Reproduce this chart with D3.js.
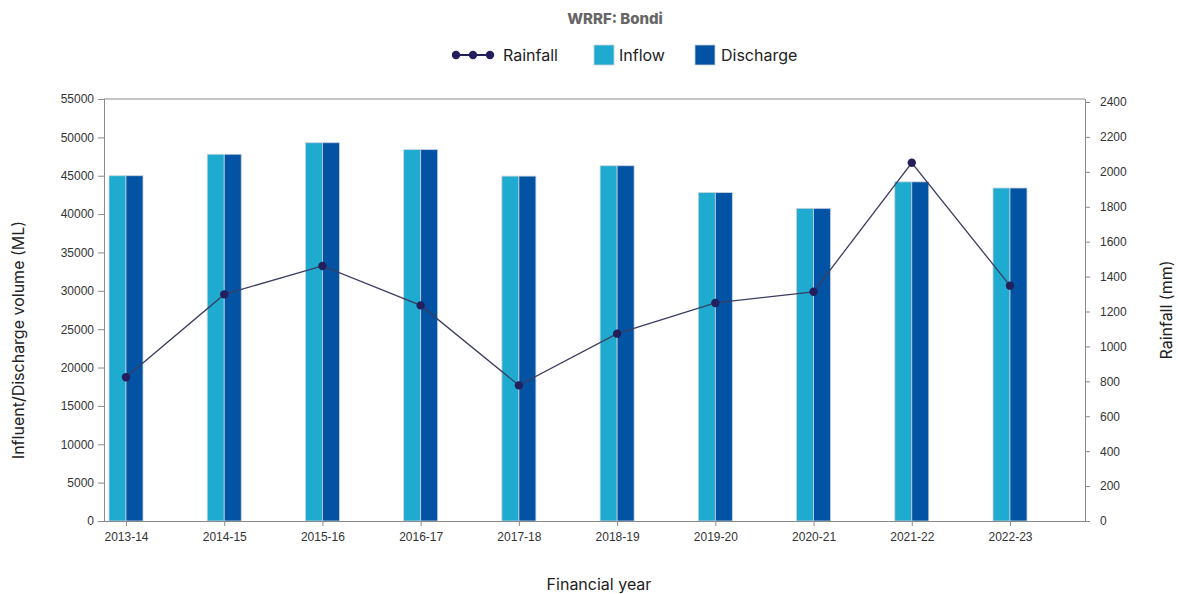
<!DOCTYPE html>
<html><head><meta charset="utf-8">
<script src="https://cdn.jsdelivr.net/npm/d3@7"></script>
<style>
body{margin:0;background:#fff;}
svg{display:block;font-family:Inter,"Open Sans",sans-serif;}
</style></head><body>
<svg id="c" width="1178" height="594"></svg>
<script>
const categories = ["2013-14","2014-15","2015-16","2016-17","2017-18","2018-19","2019-20","2020-21","2021-22","2022-23"];
const inflow    = [45000,47800,49300,48400,44950,46300,42800,40750,44200,43400];
const discharge = [45000,47800,49300,48400,44950,46300,42800,40750,44200,43400];
const rainfall  = [823,1298,1461,1235,777,1073,1249,1313,2052,1348];
const leftTicks = d3.range(0,55001,5000);
const rightTicks = d3.range(0,2401,200);

const svg = d3.select("#c");
const L=104, R=1085, T=99, B=521;
const axisCol="#8a8a8a", textCol="#333";

const x = d3.scalePoint().domain(categories).range([L+22, R-75]);
const yL = d3.scaleLinear().domain([0,55000]).range([B,T]);
const yR = d3.scaleLinear().domain([0,2400]).range([B,102]);

// top border
svg.append("line").attr("x1",L).attr("x2",R).attr("y1",T).attr("y2",T).attr("stroke",axisCol).attr("stroke-width",1);

// bars
const bw=17;
const g=svg.append("g");
g.selectAll(".inf").data(categories).join("rect")
  .attr("x",d=>x(d)-bw).attr("width",bw)
  .attr("y",(d,i)=>yL(inflow[i])).attr("height",(d,i)=>B-yL(inflow[i]))
  .attr("fill","#1fabcf").attr("stroke","#c9d3dc").attr("stroke-width",0.8);
g.selectAll(".dis").data(categories).join("rect")
  .attr("x",d=>x(d)).attr("width",bw)
  .attr("y",(d,i)=>yL(discharge[i])).attr("height",(d,i)=>B-yL(discharge[i]))
  .attr("fill","#0253a3").attr("stroke","#c9d3dc").attr("stroke-width",0.8);

// axes
function styleAxis(sel){
  sel.selectAll("path").attr("stroke",axisCol);
  sel.selectAll("line").attr("stroke",axisCol);
  sel.selectAll("text").attr("fill",textCol).style("font-size","12px");
}
const ax = svg.append("g").attr("transform",`translate(0,${B})`)
  .call(d3.axisBottom(x).tickSize(5).tickPadding(6));
ax.select("path").attr("d",`M${L},0.5H${R}`);
styleAxis(ax);
const al = svg.append("g").attr("transform",`translate(${L},0)`)
  .call(d3.axisLeft(yL).tickValues(leftTicks).tickSize(6).tickPadding(4).tickFormat(d3.format("d")));
al.select("path").attr("d",`M0.5,${B}V${T}`);
styleAxis(al);
const ar = svg.append("g").attr("transform",`translate(${R},0)`)
  .call(d3.axisRight(yR).tickValues(rightTicks).tickSize(5).tickPadding(10).tickFormat(d3.format("d")));
ar.select("path").attr("d",`M0.5,${B}V${T}`);
styleAxis(ar);

// rainfall line
const line = d3.line().x((d,i)=>x(categories[i])).y(d=>yR(d));
svg.append("path").datum(rainfall).attr("d",line).attr("fill","none")
  .attr("stroke","#3b3d62").attr("stroke-width",1.3);
svg.selectAll(".pt").data(rainfall).join("circle")
  .attr("cx",(d,i)=>x(categories[i])).attr("cy",d=>yR(d)).attr("r",4.2)
  .attr("fill","#221f5c");

// title
svg.append("text").attr("x",615).attr("y",24).attr("text-anchor","middle")
  .style("font-size","15px").style("font-weight","800").attr("fill","#666").text("WRRF: Bondi");

// legend
const lg=svg.append("g");
lg.append("line").attr("x1",456).attr("x2",490).attr("y1",55).attr("y2",55).attr("stroke","#221f5c").attr("stroke-width",2);
[456,473,490].forEach(cx=>lg.append("circle").attr("cx",cx).attr("cy",55).attr("r",4.2).attr("fill","#221f5c"));
lg.append("text").attr("x",503).attr("y",61).style("font-size","16px").attr("fill","#222").text("Rainfall");
lg.append("rect").attr("x",594).attr("y",45).attr("width",20).attr("height",20).attr("fill","#1fabcf").attr("stroke","#c9d3dc").attr("stroke-width",0.8);
lg.append("text").attr("x",619).attr("y",61).style("font-size","16px").attr("fill","#222").text("Inflow");
lg.append("rect").attr("x",695).attr("y",45).attr("width",20).attr("height",20).attr("fill","#0253a3").attr("stroke","#c9d3dc").attr("stroke-width",0.8);
lg.append("text").attr("x",721).attr("y",61).style("font-size","16px").attr("fill","#222").text("Discharge");

// axis titles
svg.append("text").attr("transform","translate(24,340) rotate(-90)").attr("text-anchor","middle")
  .style("font-size","16px").attr("fill","#222").text("Influent/Discharge volume (ML)");
svg.append("text").attr("transform","translate(1172,310) rotate(-90)").attr("text-anchor","middle")
  .style("font-size","16px").attr("fill","#222").text("Rainfall (mm)");
svg.append("text").attr("x",599).attr("y",590).attr("text-anchor","middle")
  .style("font-size","16px").attr("fill","#222").text("Financial year");
</script></body></html>
